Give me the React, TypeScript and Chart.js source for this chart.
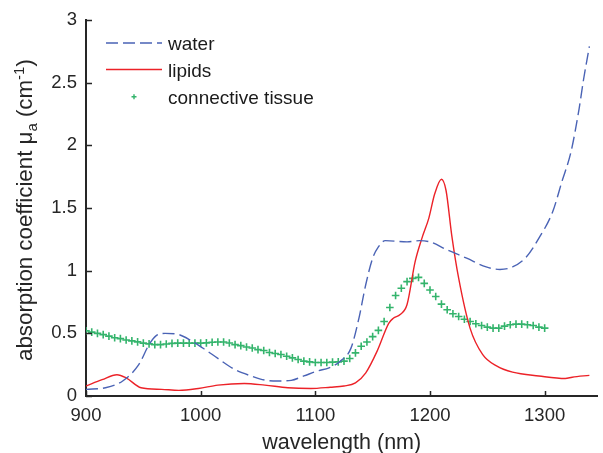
import React, { useEffect, useRef } from 'react';
import { Chart, registerables } from 'chart.js';

Chart.register(...registerables);

// ---- data ----
const waterNm = [900, 917, 932, 946, 955, 961, 969, 981, 992, 1004, 1015, 1030, 1044, 1056, 1067, 1079, 1090, 1102, 1112, 1122, 1131, 1138, 1144, 1150, 1155, 1161, 1180, 1191, 1200, 1214, 1232, 1249, 1261, 1272, 1284, 1295, 1307, 1315, 1323, 1330, 1334, 1339];
const waterAbs = [0.053, 0.066, 0.12, 0.25, 0.41, 0.48, 0.5, 0.49, 0.44, 0.37, 0.3, 0.21, 0.16, 0.127, 0.12, 0.125, 0.16, 0.2, 0.225, 0.28, 0.38, 0.62, 0.89, 1.1, 1.19, 1.24, 1.23, 1.24, 1.23, 1.17, 1.1, 1.03, 1.01, 1.03, 1.11, 1.26, 1.47, 1.71, 1.95, 2.29, 2.53, 2.79];

const lipidNm = [900, 914, 927, 935, 948, 966, 981, 998, 1015, 1038, 1056, 1076, 1096, 1113, 1125, 1135, 1144, 1154, 1164, 1168, 1174, 1180, 1187, 1193, 1199, 1204, 1210, 1214, 1219, 1225, 1235, 1246, 1258, 1272, 1295, 1318, 1324, 1339];
const lipidAbs = [0.08, 0.13, 0.17, 0.145, 0.066, 0.053, 0.045, 0.06, 0.087, 0.1, 0.087, 0.066, 0.06, 0.07, 0.08, 0.105, 0.185, 0.36, 0.58, 0.62, 0.65, 0.73, 1.07, 1.26, 1.42, 1.61, 1.73, 1.64, 1.28, 0.94, 0.54, 0.33, 0.24, 0.19, 0.16, 0.14, 0.15, 0.165];

const tissueNm = [900, 905, 910, 915, 920, 925, 930, 935, 940, 945, 950, 955, 960, 965, 970, 975, 980, 985, 990, 995,
  1000, 1005, 1010, 1015, 1020, 1025, 1030, 1035, 1040, 1045, 1050, 1055, 1060, 1065, 1070, 1075, 1080, 1085, 1090, 1095,
  1100, 1105, 1110, 1115, 1120, 1125, 1130, 1135, 1140, 1145, 1150, 1155, 1160, 1165, 1170, 1175, 1180, 1185, 1190, 1195,
  1200, 1205, 1210, 1215, 1220, 1225, 1230, 1235, 1240, 1245, 1250, 1255, 1260, 1265, 1270, 1275, 1280, 1285, 1290, 1295, 1300];
const tissueAbs = [0.52, 0.51, 0.5, 0.49, 0.478, 0.465, 0.458, 0.447, 0.44, 0.432, 0.422, 0.416, 0.41, 0.41, 0.415, 0.42, 0.422, 0.422, 0.422, 0.422,
  0.422, 0.424, 0.429, 0.431, 0.431, 0.423, 0.41, 0.402, 0.391, 0.383, 0.37, 0.363, 0.347, 0.339, 0.331, 0.317, 0.304, 0.291, 0.278, 0.272,
  0.267, 0.267, 0.267, 0.27, 0.272, 0.278, 0.299, 0.344, 0.397, 0.431, 0.474, 0.524, 0.595, 0.706, 0.802, 0.86, 0.913, 0.939, 0.947, 0.899,
  0.846, 0.794, 0.733, 0.688, 0.656, 0.635, 0.613, 0.595, 0.577, 0.563, 0.55, 0.542, 0.542, 0.558, 0.569, 0.574, 0.574, 0.569, 0.563, 0.55, 0.542];

const xTicks = [900, 1000, 1100, 1200, 1300];
const yTicks = [0, 0.5, 1, 1.5, 2, 2.5, 3];
const yTickLabels = ['0', '0.5', '1', '1.5', '2', '2.5', '3'];
const seriesNames = ['water', 'lipids', 'connective tissue'];
const xTitle = 'wavelength (nm)';

// ---- styles ----
const FONT = '"Liberation Sans", Arial, Helvetica, sans-serif';
const AXIS = '#262626';
const WATER = '#4a63b5';
const LIPID = '#ec2228';
const TISSUE = '#34b46c';
const DASH = [12, 5];

const pair = (xs: number[], ys: number[]) => xs.map((x, i) => ({ x, y: ys[i] }));

const decorPlugin = {
  id: 'decor',
  afterDraw(chart: any) {
    const { ctx, chartArea } = chart;
    const xs = chart.scales.x;
    const ys = chart.scales.y;
    ctx.save();
    // inward ticks
    ctx.strokeStyle = AXIS;
    ctx.lineWidth = 1.5;
    ctx.beginPath();
    xTicks.forEach((v) => {
      const px = Math.round(xs.getPixelForValue(v)) + 0.5;
      ctx.moveTo(px, chartArea.bottom);
      ctx.lineTo(px, chartArea.bottom - 5);
    });
    yTicks.forEach((v) => {
      const py = Math.round(ys.getPixelForValue(v)) + 0.5;
      ctx.moveTo(chartArea.left, py);
      ctx.lineTo(chartArea.left + 6, py);
    });
    ctx.stroke();

    // x title
    ctx.fillStyle = AXIS;
    ctx.font = `21.5px ${FONT}`;
    ctx.textAlign = 'center';
    ctx.textBaseline = 'alphabetic';
    ctx.fillText(xTitle, (chartArea.left + chartArea.right) / 2, 449);

    // y title with subscript / superscript
    const big = `22.3px ${FONT}`;
    const small = `15px ${FONT}`;
    const segs: [string, string, number][] = [
      ['absorption coefficient \u03bc', big, 0],
      ['a', small, 5],
      [' (cm', big, 0],
      ['-1', small, -8],
      [')', big, 0],
    ];
    let total = 0;
    segs.forEach(([t, f]) => { ctx.font = f; total += ctx.measureText(t).width; });
    ctx.translate(31.5, (chartArea.top + chartArea.bottom) / 2 + 2);
    ctx.rotate(-Math.PI / 2);
    ctx.textAlign = 'left';
    let cx = -total / 2;
    segs.forEach(([t, f, dy]) => {
      ctx.font = f;
      ctx.fillText(t, cx, dy);
      cx += ctx.measureText(t).width;
    });
    ctx.restore();

    // legend inside the plot
    ctx.save();
    const lx0 = chartArea.left + 20;
    const lx1 = chartArea.left + 76;
    const tx = chartArea.left + 82;
    const base = [50, 76.8, 103.5];
    const mid = [43, 69.5, 96.7];
    ctx.lineWidth = 1.4;
    ctx.strokeStyle = WATER;
    ctx.setLineDash(DASH);
    ctx.beginPath();
    ctx.moveTo(lx0, mid[0]);
    ctx.lineTo(lx1, mid[0]);
    ctx.stroke();
    ctx.setLineDash([]);
    ctx.strokeStyle = LIPID;
    ctx.beginPath();
    ctx.moveTo(lx0, mid[1]);
    ctx.lineTo(lx1, mid[1]);
    ctx.stroke();
    ctx.strokeStyle = TISSUE;
    ctx.lineWidth = 1.4;
    const gx = (lx0 + lx1) / 2;
    ctx.beginPath();
    ctx.moveTo(gx - 2.5, mid[2]);
    ctx.lineTo(gx + 2.5, mid[2]);
    ctx.moveTo(gx, mid[2] - 2.5);
    ctx.lineTo(gx, mid[2] + 2.5);
    ctx.stroke();
    ctx.fillStyle = '#1a1a1a';
    ctx.font = `19px ${FONT}`;
    ctx.textAlign = 'left';
    ctx.textBaseline = 'alphabetic';
    seriesNames.forEach((n, i) => ctx.fillText(n, tx, base[i]));
    ctx.restore();
  },
};

export default function App() {
  const ref = useRef<HTMLCanvasElement | null>(null);
  useEffect(() => {
    if (!ref.current) return;
    const chart = new Chart(ref.current, {
      type: 'line',
      data: {
        datasets: [
          {
            label: seriesNames[0],
            data: pair(waterNm, waterAbs),
            borderColor: WATER,
            borderWidth: 1.4,
            borderDash: DASH,
            pointRadius: 0,
            cubicInterpolationMode: 'monotone',
            fill: false,
          },
          {
            label: seriesNames[1],
            data: pair(lipidNm, lipidAbs),
            borderColor: LIPID,
            borderWidth: 1.4,
            pointRadius: 0,
            cubicInterpolationMode: 'monotone',
            fill: false,
          },
          {
            label: seriesNames[2],
            data: pair(tissueNm, tissueAbs),
            borderColor: TISSUE,
            backgroundColor: TISSUE,
            showLine: false,
            pointStyle: 'cross',
            pointRadius: 3.8,
            pointBorderWidth: 1.6,
            fill: false,
          },
        ],
      },
      options: {
        responsive: false,
        animation: false,
        devicePixelRatio: 1,
        layout: { padding: { top: 17, right: 1, left: 0, bottom: 0 } },
        plugins: { legend: { display: false }, tooltip: { enabled: false } },
        scales: {
          x: {
            type: 'linear',
            min: 900,
            max: 1346,
            afterBuildTicks: (s: any) => { s.ticks = xTicks.map((v) => ({ value: v })); },
            afterFit: (s: any) => { s.height = 57; },
            grid: { display: true, drawOnChartArea: false, drawTicks: false },
            border: { display: true, color: AXIS, width: 2 },
            ticks: {
              color: AXIS,
              font: { family: FONT, size: 18.5 },
              padding: 9,
              maxRotation: 0,
              autoSkip: false,
              callback: (v: any) => String(v),
            },
          },
          y: {
            type: 'linear',
            min: 0,
            max: 3,
            afterBuildTicks: (s: any) => { s.ticks = yTicks.map((v) => ({ value: v })); },
            afterFit: (s: any) => { s.width = 86; },
            grid: { display: true, drawOnChartArea: false, drawTicks: false },
            border: { display: true, color: AXIS, width: 2 },
            ticks: {
              color: AXIS,
              font: { family: FONT, size: 18.5 },
              padding: 9,
              autoSkip: false,
              callback: (v: any) => {
                const i = yTicks.indexOf(Number(v));
                return i >= 0 ? yTickLabels[i] : '';
              },
            },
          },
        },
      },
      plugins: [decorPlugin],
    } as any);
    return () => chart.destroy();
  }, []);
  return (
    <div style={{ position: 'fixed', left: 0, top: 0, width: 603, height: 453, background: '#fff' }}>
      <canvas ref={ref} width={603} height={453} style={{ display: 'block' }} />
    </div>
  );
}
